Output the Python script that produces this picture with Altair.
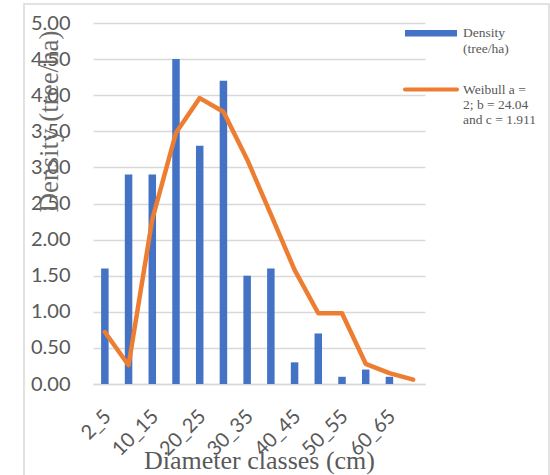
import altair as alt
import pandas as pd

classes = ["2_5", "5_10", "10_15", "15_20", "20_25", "25_30", "30_35",
           "35_40", "40_45", "45_50", "50_55", "55_60", "60_65", "65_70"]
density = [1.6, 2.9, 2.9, 4.5, 3.3, 4.2, 1.5, 1.6, 0.3, 0.7, 0.1, 0.2, 0.1, 0.0]
weibull = [0.72, 0.26, 2.28, 3.48, 3.96, 3.77, 3.11, 2.35, 1.58, 0.98, 0.98, 0.28, 0.15, 0.06]
shown_labels = ["2_5", "10_15", "20_25", "30_35", "40_45", "50_55", "60_65"]
y_ticks = [0.0, 0.5, 1.0, 1.5, 2.0, 2.5, 3.0, 3.5, 4.0, 4.5, 5.0]

df = pd.DataFrame({"cls": classes, "density": density, "weibull": weibull})

GRAY = "#595959"
GRID = "#d9d9d9"
SANS = "Lato"
SERIF = "Liberation Serif"

W, H = 332, 361

xscale = alt.Scale(domain=classes, paddingInner=0, paddingOuter=0)
yscale = alt.Scale(domain=[0, 5], nice=False)

x_axis = alt.Axis(
    values=shown_labels, labelAngle=-45, labelFontSize=20, labelFont=SANS,
    labelColor=GRAY, ticks=False, domainColor=GRID, domainWidth=1.5,
    labelPadding=22, labelOffset=-4, labelOverlap=False,
    title="Diameter classes (cm)", titleFont=SERIF,
    titleFontSize=26, titleFontWeight="normal", titleColor=GRAY,
    titleX=166, titleY=84, titleBaseline="alphabetic", titleAlign="center",
    grid=False,
)
y_axis = alt.Axis(
    values=y_ticks, format=".2f", labelFontSize=20, labelFont=SANS,
    labelColor=GRAY, ticks=False, domain=False, gridColor=GRID,
    gridWidth=1.5, labelPadding=23, labelOverlap=False, labelFlush=False,
    title="Density (tree/ha)",
    titleFont=SERIF, titleFontSize=27, titleFontWeight="normal",
    titleColor="#6b6b6b", titleX=-36, titleY=98, titleAngle=270,
    titleBaseline="alphabetic", titleAlign="center",
)

base = alt.Chart(df)

bars = base.mark_bar(color="#4472C4", size=7.5).encode(
    x=alt.X("cls:N", sort=classes, scale=xscale, axis=x_axis),
    y=alt.Y("density:Q", scale=yscale, axis=y_axis),
)

line = base.mark_line(color="#ED7D31", strokeWidth=4.5, strokeJoin="round",
                      strokeCap="round").encode(
    x=alt.X("cls:N", sort=classes, scale=xscale, axis=x_axis),
    y=alt.Y("weibull:Q", scale=yscale, axis=y_axis),
)

# outer chart frame
frame = alt.Chart(pd.DataFrame({"a": [0]})).mark_rect(
    fill=None, stroke=GRID, strokeWidth=1.5
).encode(x=alt.value(-69), x2=alt.value(456), y=alt.value(-19), y2=alt.value(470))

# legend
leg_bar = alt.Chart(pd.DataFrame({"a": [0]})).mark_rect(color="#4472C4").encode(
    x=alt.value(312), x2=alt.value(364), y=alt.value(7), y2=alt.value(13.5))
leg_line = alt.Chart(pd.DataFrame({"a": [0]})).mark_rule(
    color="#ED7D31", strokeWidth=4, strokeCap="round").encode(
    x=alt.value(312), x2=alt.value(364), y=alt.value(66.5))

legend_text = pd.DataFrame({
    "t": ["Density", "(tree/ha)", "Weibull a =", "2; b = 24.04", "and c = 1.911"],
    "yy": [10, 26, 67, 82, 96.5],
})
leg_txt = alt.Chart(legend_text).mark_text(
    font=SERIF, fontSize=13.5, color=GRAY, align="left", baseline="middle"
).encode(x=alt.value(370), y=alt.Y("yy:Q", scale=None), text="t:N")

chart = alt.layer(frame, bars, line, leg_bar, leg_line, leg_txt).properties(
    width=W, height=H,
    padding={"left": 93, "top": 23, "right": 125, "bottom": 91},
    autosize=alt.AutoSizeParams(type="none"),
).configure(background="white").configure_view(stroke=None)

chart.save("out.html", embed_options={"renderer": "svg", "actions": False})
